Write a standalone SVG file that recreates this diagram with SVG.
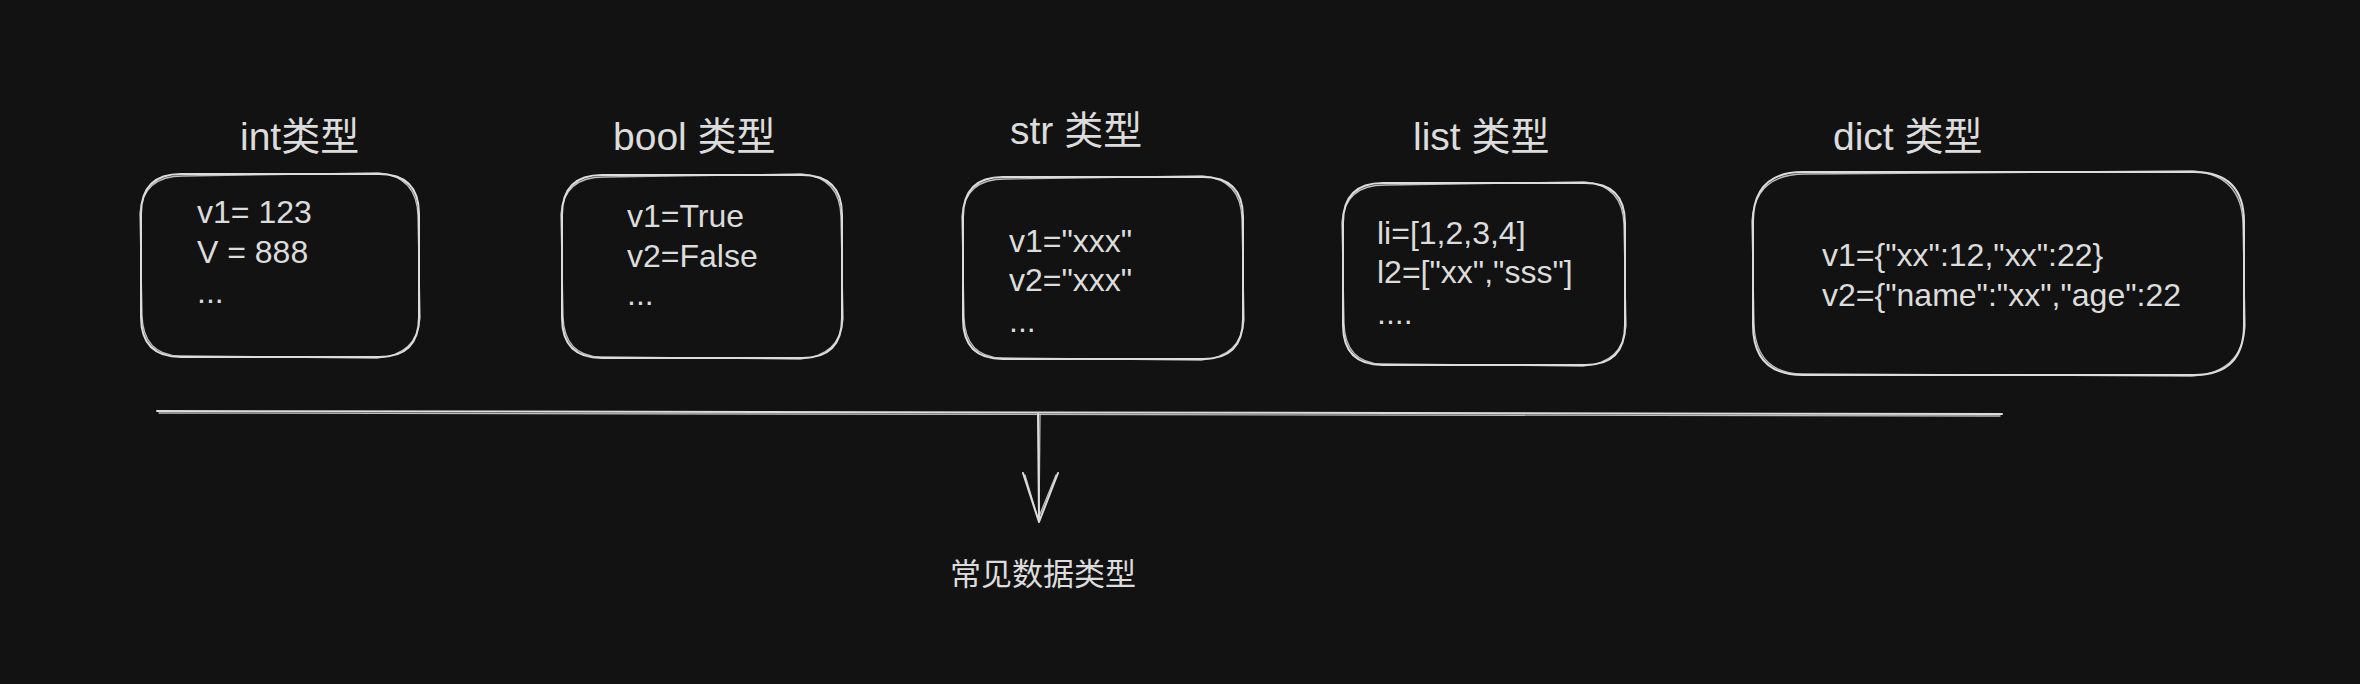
<svg xmlns="http://www.w3.org/2000/svg" width="2360" height="684" viewBox="0 0 2360 684">
  <style>
    .bg { fill: #121212; }
    .sk { fill: none; stroke: #dcdcdc; stroke-width: 2; stroke-linecap: round; stroke-linejoin: round; }
    .sk2 { fill: none; stroke: #dcdcdc; stroke-width: 1.3; stroke-linecap: round; stroke-linejoin: round; opacity: 0.85; }
    .title { font-family: "Liberation Sans", "Noto Sans CJK SC", sans-serif; font-size: 39px; fill: #dcdcdc; }
    .code { font-family: "Liberation Sans", "Noto Sans CJK SC", sans-serif; font-size: 32px; fill: #dcdcdc; }
    .label { font-family: "Noto Sans CJK SC", "Noto Sans", sans-serif; font-size: 31px; fill: #dcdcdc; }
  </style>
  <rect class="bg" x="0" y="0" width="2360" height="684"/>

  <g id="int-node">
    <text class="title" x="240" y="150">int类型</text>
    <path class="sk" d="M181 174 L379 174 Q419 174 419 214 L419 317 Q419 357 379 357 L181 357 Q141 357 141 317 L141 214 Q141 174 181 174 Z"/>
    <path class="sk2" d="M183 176 L378 173 Q417 176 418 216 L420 318 Q417 355 377 358 L180 356 Q143 355 142 315 L140 213 Q143 176 183 176 Z"/>
    <text class="code" x="197" y="223">v1= 123</text>
    <text class="code" x="197" y="263">V = 888</text>
    <text class="code" x="197" y="303">...</text>
  </g>

  <g id="bool-node">
    <text class="title" x="613" y="150">bool 类型</text>
    <path class="sk" d="M602 175 L802 175 Q842 175 842 215 L842 318 Q842 358 802 358 L602 358 Q562 358 562 318 L562 215 Q562 175 602 175 Z"/>
    <path class="sk2" d="M604 177 L801 174 Q840 177 841 217 L843 319 Q840 356 800 359 L601 357 Q564 356 563 316 L561 214 Q564 177 604 177 Z"/>
    <text class="code" x="627" y="227">v1=True</text>
    <text class="code" x="627" y="267">v2=False</text>
    <text class="code" x="627" y="305">...</text>
  </g>

  <g id="str-node">
    <text class="title" x="1010" y="144">str 类型</text>
    <path class="sk" d="M1003 177 L1203 177 Q1243 177 1243 217 L1243 319 Q1243 359 1203 359 L1003 359 Q963 359 963 319 L963 217 Q963 177 1003 177 Z"/>
    <path class="sk2" d="M1005 179 L1202 176 Q1241 179 1242 219 L1244 320 Q1241 357 1201 360 L1002 358 Q965 357 964 317 L962 216 Q965 179 1005 179 Z"/>
    <text class="code" x="1009" y="252">v1="xxx"</text>
    <text class="code" x="1009" y="291">v2="xxx"</text>
    <text class="code" x="1009" y="332">...</text>
  </g>

  <g id="list-node">
    <text class="title" x="1413" y="150">list 类型</text>
    <path class="sk" d="M1383 183 L1585 183 Q1625 183 1625 223 L1625 325 Q1625 365 1585 365 L1383 365 Q1343 365 1343 325 L1343 223 Q1343 183 1383 183 Z"/>
    <path class="sk2" d="M1385 185 L1584 182 Q1623 185 1624 225 L1626 326 Q1623 363 1583 366 L1382 364 Q1345 363 1344 323 L1342 222 Q1345 185 1385 185 Z"/>
    <text class="code" x="1377" y="244">li=[1,2,3,4]</text>
    <text class="code" x="1377" y="283">l2=["xx","sss"]</text>
    <text class="code" x="1377" y="324">....</text>
  </g>

  <g id="dict-node">
    <text class="title" x="1833" y="150">dict 类型</text>
    <path class="sk" d="M1803 172 L2194 172 Q2244 172 2244 222 L2244 325 Q2244 375 2194 375 L1803 375 Q1753 375 1753 325 L1753 222 Q1753 172 1803 172 Z"/>
    <path class="sk2" d="M1805 174 L2193 171 Q2242 175 2243 224 L2245 326 Q2242 373 2192 376 L1802 374 Q1755 373 1754 323 L1752 221 Q1755 174 1805 174 Z"/>
    <text class="code" x="1822" y="266">v1={"xx":12,"xx":22}</text>
    <text class="code" x="1822" y="306">v2={"name":"xx","age":22</text>
  </g>

  <g id="connectors">
    <path class="sk" d="M157 411 L2002 414"/>
    <path class="sk2" d="M159 413 L2000 416"/>
    <path class="sk" d="M1038 414 L1039 521"/>
    <path class="sk2" d="M1040 415 L1039 522"/>
    <path class="sk" d="M1023 473 L1039 522 L1058 473"/>
    <path class="sk2" d="M1025 475 L1038 519 L1056 475"/>
  </g>

  <g id="label-node">
    <text class="label" x="950" y="585">常见数据类型</text>
  </g>
</svg>
